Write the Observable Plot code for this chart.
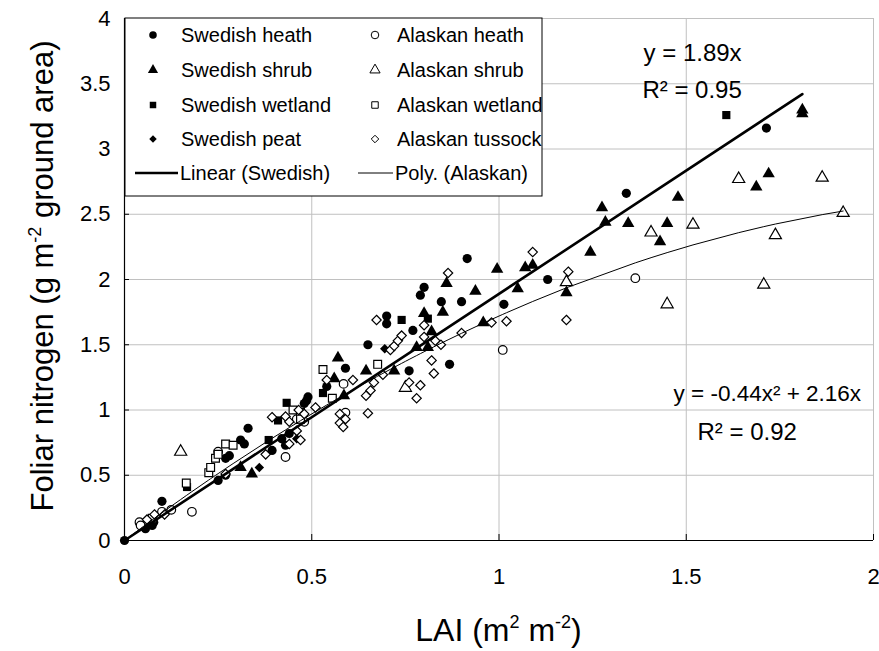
<!DOCTYPE html>
<html><head><meta charset="utf-8">
<script src="https://cdn.jsdelivr.net/npm/d3@7"></script>
<script src="https://cdn.jsdelivr.net/npm/@observablehq/plot@0.6"></script>
<style>
html,body{margin:0;padding:0;background:#fff;}
#chart{width:879px;height:651px;}
</style></head><body><div id="chart"></div>
<script>
// ---- data: [LAI, foliar N] ----
const swedishHeath = [[0,0],[0.056,0.09],[0.074,0.115],[0.078,0.14],[0.10,0.30],[0.25,0.46],[0.27,0.50],[0.27,0.63],[0.28,0.65],[0.31,0.77],[0.32,0.74],[0.33,0.86],[0.394,0.69],[0.42,0.78],[0.44,0.82],[0.43,0.73],[0.486,1.07],[0.49,1.10],[0.48,1.05],[0.54,1.18],[0.59,1.32],[0.65,1.50],[0.70,1.72],[0.70,1.66],[0.76,1.30],[0.77,1.61],[0.79,1.88],[0.80,1.94],[0.846,1.83],[0.868,1.35],[0.90,1.83],[0.915,2.16],[1.013,1.81],[1.13,2.00],[1.34,2.66],[1.714,3.16]];
const swedishShrub = [[0.31,0.56],[0.34,0.51],[0.56,1.24],[0.57,1.40],[0.586,1.11],[0.645,1.30],[0.72,1.30],[0.78,1.48],[0.81,1.48],[0.80,1.74],[0.82,1.60],[0.85,1.75],[0.86,1.97],[0.937,1.91],[0.958,1.67],[0.995,2.08],[1.05,1.93],[1.07,2.09],[1.09,2.11],[1.18,1.90],[1.244,2.21],[1.275,2.55],[1.284,2.44],[1.345,2.43],[1.43,2.29],[1.449,2.43],[1.478,2.63],[1.687,2.71],[1.72,2.81],[1.81,3.30],[1.81,3.27]];
const swedishWetland = [[0.167,0.41],[0.385,0.77],[0.41,0.92],[0.433,1.055],[0.53,1.13],[0.74,1.69],[0.81,1.70],[1.607,3.26]];
const swedishPeat = [[0.36,0.56],[0.46,0.78],[0.695,1.47]];
const alaskanHeath = [[0.04,0.14],[0.043,0.115],[0.10,0.22],[0.125,0.235],[0.18,0.22],[0.25,0.68],[0.43,0.64],[0.46,0.93],[0.48,0.91],[0.585,1.20],[0.59,0.98],[1.01,1.46],[1.364,2.01]];
const alaskanShrub = [[0.15,0.68],[0.75,1.17],[1.18,1.98],[1.406,2.36],[1.449,1.81],[1.518,2.42],[1.64,2.77],[1.707,1.96],[1.738,2.34],[1.863,2.78],[1.919,2.51]];
const alaskanWetland = [[0.074,0.17],[0.165,0.44],[0.225,0.52],[0.23,0.56],[0.243,0.63],[0.25,0.66],[0.27,0.74],[0.29,0.73],[0.45,1.00],[0.47,0.98],[0.47,0.93],[0.53,1.31],[0.555,1.09],[0.676,1.35]];
const alaskanTussock = [[0.06,0.16],[0.08,0.20],[0.107,0.20],[0.27,0.51],[0.377,0.66],[0.394,0.945],[0.43,0.95],[0.44,0.91],[0.44,0.74],[0.46,0.84],[0.47,0.77],[0.465,1.00],[0.48,0.97],[0.51,1.02],[0.54,1.23],[0.61,1.23],[0.575,0.97],[0.59,0.93],[0.575,0.90],[0.584,0.87],[0.65,0.975],[0.645,1.11],[0.657,1.15],[0.666,1.21],[0.69,1.27],[0.673,1.69],[0.71,1.46],[0.72,1.49],[0.73,1.53],[0.74,1.57],[0.76,1.21],[0.79,1.19],[0.78,1.09],[0.80,1.65],[0.80,1.56],[0.83,1.53],[0.845,1.50],[0.82,1.38],[0.826,1.28],[0.864,2.05],[0.90,1.59],[0.98,1.67],[1.02,1.68],[1.09,2.21],[1.18,1.69],[1.185,2.06]];

// trendline coefficients shown on the chart
const linearCoef = [1.89];          // y = 1.89x
const polyCoef = [-0.44, 2.16];     // y = -0.44x^2 + 2.16x
const xTicks = [0, 0.5, 1, 1.5, 2];
const yTicks = [0, 0.5, 1, 1.5, 2, 2.5, 3, 3.5, 4];
const equationLabels = ["y = 1.89x", "R² = 0.95", "y = -0.44x² + 2.16x", "R² = 0.92"];

// ---- layout ----
const W = 879, H = 651, mL = 124, mR = 6, mT = 18, mB = 111;
const plotW = W - mL - mR, plotH = H - mT - mB;
const FONT = "'Liberation Sans', Arial, sans-serif";

const series = [
  {name: "Swedish heath", data: swedishHeath, symbol: "circle", open: false, r: 4.6},
  {name: "Swedish shrub", data: swedishShrub, symbol: "triangle", open: false, r: 4.6},
  {name: "Swedish wetland", data: swedishWetland, symbol: "square", open: false, r: 4.6},
  {name: "Swedish peat", data: swedishPeat, symbol: "diamond2", open: false, r: 4.3},
  {name: "Alaskan heath", data: alaskanHeath, symbol: "circle", open: true, r: 4.3},
  {name: "Alaskan shrub", data: alaskanShrub, symbol: "triangle", open: true, r: 4.5},
  {name: "Alaskan wetland", data: alaskanWetland, symbol: "square", open: true, r: 4.4},
  {name: "Alaskan tussock", data: alaskanTussock, symbol: "diamond2", open: true, r: 4.2}
];

const swedAll = [swedishHeath, swedishShrub, swedishWetland, swedishPeat].flat();
const alaskAll = [alaskanHeath, alaskanShrub, alaskanWetland, alaskanTussock].flat();
const linXmax = d3.max(swedAll, d => d[0]);
const linLine = [0, linXmax].map(x => [x, linearCoef[0] * x]);
const polyXs = [0, ...alaskAll.map(d => d[0]).sort((a, b) => a - b)];
const polyLine = polyXs.map(x => [x, polyCoef[0] * x * x + polyCoef[1] * x]);

const dotMarks = series.map(s => Plot.dot(s.data, {
  x: d => d[0], y: d => d[1], symbol: s.symbol, r: s.r,
  fill: s.open ? "white" : "black",
  stroke: s.open ? "black" : "none",
  strokeWidth: s.open ? 1.2 : 0
}));

const chart = Plot.plot({
  width: W, height: H,
  marginLeft: mL, marginRight: mR, marginTop: mT, marginBottom: mB,
  style: {fontFamily: FONT, fontSize: "22px", background: "white", color: "black"},
  x: {domain: [0, 2]},
  y: {domain: [0, 4]},
  marks: [
    Plot.ruleX(xTicks, {stroke: "#c0c0c0", strokeWidth: 1}),
    Plot.ruleY(yTicks, {stroke: "#c0c0c0", strokeWidth: 1}),
    Plot.ruleX([0], {stroke: "black", strokeWidth: 1.2}),
    Plot.ruleY([0], {stroke: "black", strokeWidth: 1.2}),
    Plot.tickX(xTicks, {x: d => d, insetTop: plotH - 6, stroke: "black"}),
    Plot.tickY(yTicks, {y: d => d, insetRight: plotW - 5, stroke: "black"}),
    Plot.axisX({ticks: xTicks, tickSize: 0, tickPadding: 28, tickFormat: d => String(d), fontSize: 22, label: null}),
    Plot.axisY({ticks: yTicks, tickSize: 0, tickPadding: 14, tickFormat: d => String(d), fontSize: 22, label: null}),
    ...dotMarks,
    Plot.line(polyLine, {x: d => d[0], y: d => d[1], stroke: "black", strokeWidth: 1}),
    Plot.line(linLine, {x: d => d[0], y: d => d[1], stroke: "black", strokeWidth: 2.6}),
    Plot.text([equationLabels[0]], {x: 1.386, y: 3.73, text: d => d, textAnchor: "start", fontSize: 24}),
    Plot.text([equationLabels[1]], {x: 1.383, y: 3.45, text: d => d, textAnchor: "start", fontSize: 24}),
    Plot.text([equationLabels[2]], {x: 1.466, y: 1.126, text: d => d, textAnchor: "start", fontSize: 22.5}),
    Plot.text([equationLabels[3]], {x: 1.53, y: 0.83, text: d => d, textAnchor: "start", fontSize: 24})
  ]
});
document.getElementById("chart").appendChild(chart);

const svg = d3.select(chart);
// axis titles
const yt = svg.append("text")
  .attr("transform", `translate(53,${mT + 258}) rotate(-90)`)
  .attr("text-anchor", "middle").attr("font-size", 31).attr("fill", "black");
yt.append("tspan").text("Foliar nitrogen (g m");
yt.append("tspan").attr("dy", -12).attr("font-size", 18).text("-2");
yt.append("tspan").attr("dy", 12).text(" ground area)");

const xt = svg.append("text")
  .attr("x", mL + plotW / 2).attr("y", 641)
  .attr("text-anchor", "middle").attr("font-size", 32).attr("fill", "black");
xt.append("tspan").text("LAI (m");
xt.append("tspan").attr("dy", -13).attr("font-size", 18).text("2");
xt.append("tspan").attr("dy", 13).text(" m");
xt.append("tspan").attr("dy", -13).attr("font-size", 18).text("-2");
xt.append("tspan").attr("dy", 13).text(")");

// legend
const lg = svg.append("g").attr("font-size", 20).attr("fill", "black").attr("text-anchor", "start");
lg.append("rect").attr("x", 125).attr("y", 18).attr("width", 417).attr("height", 178)
  .attr("fill", "white").attr("stroke", "black").attr("stroke-width", 1);
const rowY = [35, 70, 105, 139, 173];
const symMap = {circle: d3.symbolCircle, triangle: d3.symbolTriangle, square: d3.symbolSquare, diamond2: d3.symbolDiamond2};
const legSize = {circle: 45, triangle: 45, square: 42, diamond2: 36};
series.forEach((s, i) => {
  const col = i < 4 ? 0 : 1, row = i % 4;
  const sx = col === 0 ? 153 : 375, tx = col === 0 ? 181 : 397;
  lg.append("path").attr("d", d3.symbol(symMap[s.symbol], legSize[s.symbol])())
    .attr("transform", `translate(${sx},${rowY[row]})`)
    .attr("fill", s.open ? "white" : "black").attr("stroke", s.open ? "black" : "none").attr("stroke-width", 1);
  lg.append("text").attr("x", tx).attr("y", rowY[row]).attr("dy", "0.35em").text(s.name);
});
lg.append("line").attr("x1", 135).attr("x2", 178).attr("y1", rowY[4]).attr("y2", rowY[4]).attr("stroke", "black").attr("stroke-width", 2.6);
lg.append("text").attr("x", 180).attr("y", rowY[4]).attr("dy", "0.35em").text("Linear (Swedish)");
lg.append("line").attr("x1", 358).attr("x2", 393).attr("y1", rowY[4]).attr("y2", rowY[4]).attr("stroke", "black").attr("stroke-width", 1);
lg.append("text").attr("x", 395).attr("y", rowY[4]).attr("dy", "0.35em").text("Poly. (Alaskan)");
</script>
</body></html>
